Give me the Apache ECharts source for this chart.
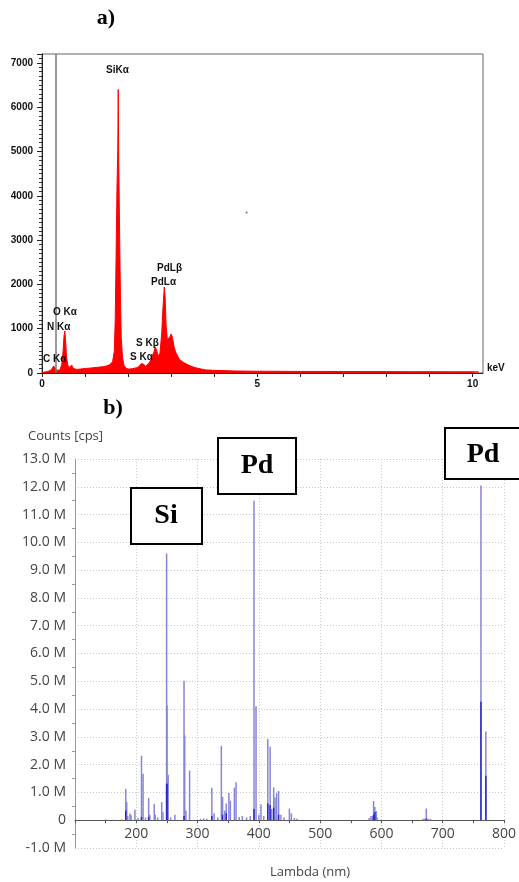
<!DOCTYPE html>
<html>
<head>
<meta charset="utf-8">
<title>EDS and emission spectra</title>
<script src="https://cdn.jsdelivr.net/npm/echarts@6/dist/echarts.min.js"></script>
<style>
    html, body { margin: 0; padding: 0; background: #fff; }
    #main { width: 519px; height: 882px; }
</style>
</head>
<body>
<div id="main"></div>
<script type="text/javascript">
    // a) EDS spectrum: energy (keV) and counts
    var edsKeV = [0.00, 0.05, 0.10, 0.15, 0.20, 0.24, 0.27, 0.30, 0.34, 0.38, 0.42, 0.46, 0.49, 0.51, 0.53,
        0.55, 0.57, 0.60, 0.63, 0.66, 0.69, 0.72, 0.76, 0.80, 0.90, 1.00, 1.10, 1.20, 1.30, 1.40,
        1.50, 1.58, 1.64, 1.68, 1.70, 1.72, 1.74, 1.76, 1.77, 1.78, 1.80, 1.82, 1.84, 1.87, 1.90,
        1.95, 2.00, 2.05, 2.10, 2.15, 2.20, 2.26, 2.30, 2.33, 2.36, 2.40, 2.45, 2.50, 2.55, 2.60,
        2.63, 2.66, 2.70, 2.74, 2.78, 2.81, 2.84, 2.86, 2.88, 2.91, 2.94, 2.97, 3.00, 3.03, 3.06,
        3.10, 3.15, 3.20, 3.30, 3.40, 3.50, 3.60, 3.70, 3.80, 4.00, 4.50, 5.00, 5.50, 6.00, 6.50,
        7.00, 7.50, 8.00, 8.50, 9.00, 9.50, 10.00, 10.15];
    var edsCounts = [0, 20, 30, 40, 60, 110, 160, 120, 60, 50, 70, 200, 500, 820, 950,
        700, 350, 180, 120, 140, 180, 110, 90, 80, 90, 100, 110, 120, 130, 140,
        160, 190, 260, 500, 1200, 2600, 4100, 5100, 6400, 5000, 3300, 1800, 800, 350, 180,
        110, 90, 90, 100, 110, 120, 150, 210, 240, 200, 150, 190, 250, 330, 480,
        590, 520, 380, 450, 900, 1500, 1940, 1700, 1100, 750, 720, 820, 880, 800, 620,
        480, 380, 300, 230, 180, 140, 110, 90, 70, 60, 45, 40, 38, 35, 35,
        33, 32, 32, 30, 30, 28, 28, 25];
    var keVLabels = [0, 5, 10];
    var markerKeV = 0.32;
    var strayDot = [4.75, 3620];

    // b) emission lines: wavelength (nm) and intensity (M cps)
    var lineNm = [150, 163, 176, 182.8, 184.4, 186, 189.7, 191.5, 197.8, 203, 208.5, 211.1, 215, 220.2, 222,
        229.3, 231, 235, 241.5, 243.5, 249.5, 250.2, 252.0, 256, 263, 277.9, 279.0, 281, 287,
        305, 310, 315, 323.3, 327, 333, 338.8, 340.8, 344.5, 346.8, 351.1, 353.5, 360.1, 362.8,
        368, 373, 380, 386, 392.1, 395.4, 400, 403.4, 408, 414.6, 418.4, 421, 424.2, 426.4, 429.0,
        432.2, 436, 441, 449.8, 453, 458, 462, 580, 583, 585.5, 587.2, 589.3, 591.5, 593,
        668, 671, 673.2, 676, 680, 762.4, 770.4];
    var lineCps = [0.03, 0.02, 0.03, 1.13, 0.65, 0.15, 0.24, 0.18, 0.38, 0.08, 2.32, 1.67, 0.10, 0.80, 0.20,
        0.58, 0.20, 0.10, 0.65, 0.30, 9.60, 4.13, 1.64, 0.10, 0.20, 5.02, 3.05, 0.35, 1.79,
        0.05, 0.06, 0.05, 1.17, 0.25, 0.10, 2.68, 0.84, 0.35, 0.60, 0.98, 0.70, 1.17, 1.37,
        0.12, 0.15, 0.10, 0.15, 11.5, 4.10, 0.20, 0.57, 0.15, 2.92, 2.64, 0.40, 1.18, 0.82, 0.97,
        1.05, 0.20, 0.10, 0.42, 0.25, 0.08, 0.05, 0.08, 0.15, 0.15, 0.69, 0.48, 0.33, 0.10,
        0.05, 0.06, 0.42, 0.06, 0.05, 12.05, 3.19];
    // darker, overlapping parts of the strongest lines
    var coreNm = [182.8, 208.5, 220.2, 249.5, 250.2, 277.9, 323.3, 340.8, 346.8, 392.1, 414.6, 418.4, 424.2,
        432.2, 587.2, 589.3, 673.2, 762.4, 770.4];
    var coreCps = [0.35, 0.12, 0.12, 1.31, 1.31, 0.15, 0.15, 0.20, 0.25, 0.40, 0.60, 0.55, 0.45,
        0.20, 0.20, 0.30, 0.05, 4.26, 1.60];

    var edsData = edsKeV.map(function (k, i) { return [k, edsCounts[i]]; });
    var lineData = lineNm.map(function (n, i) { return [n, lineCps[i]]; });
    var coreData = coreNm.map(function (n, i) { return [n, coreCps[i]]; });

    var boldSans = 'bold 10px "Liberation Sans", Arial, sans-serif';
    var serifBold = 'bold 28px "Liberation Serif", "Times New Roman", serif';
    var uiFont = '"Open Sans", "Noto Sans", sans-serif';

    function txt(text, x, y, font, align, color) {
        return {
            type: 'text', x: x, y: y, z: 100,
            style: { text: text, font: font, fill: color || '#111', textAlign: align || 'left', textVerticalAlign: 'middle' }
        };
    }
    function box(x, y, w, h, label, cx, cy) {
        return [
            { type: 'rect', z: 100, shape: { x: x, y: y, width: w, height: h },
              style: { fill: '#fff', stroke: '#000', lineWidth: 2 } },
            txt(label, cx, cy, serifBold, 'center', '#000')
        ];
    }

    var myChart = echarts.init(document.getElementById('main'));

    var option = {
        animation: false,
        backgroundColor: '#fff',
        grid: [
            { left: 42, right: 36, top: 54, bottom: 509, show: true, borderColor: '#666', borderWidth: 1, backgroundColor: 'transparent' },
            { left: 75, right: 7, top: 459, bottom: 34 }
        ],
        xAxis: [
            {
                gridIndex: 0, type: 'value', min: 0, max: 10.24, interval: 1,
                axisLine: { lineStyle: { color: '#222', width: 1 } },
                axisTick: { show: true, length: 4, lineStyle: { color: '#222' } },
                splitLine: { show: false },
                axisLabel: {
                    showMaxLabel: false, margin: 6, color: '#111',
                    fontFamily: '"Liberation Sans", Arial', fontWeight: 'bold', fontSize: 10,
                    formatter: function (v) { return keVLabels.indexOf(v) >= 0 ? String(v) : ''; }
                }
            },
            {
                // the wavelength axis sits on the zero line, one unit above the bottom
                gridIndex: 1, type: 'value', min: 100, max: 800, interval: 100,
                position: 'bottom', offset: -27.8,
                axisLine: { onZero: false, lineStyle: { color: '#555', width: 1 } },
                axisTick: { show: true, length: 3, lineStyle: { color: '#555' } },
                minorTick: { show: true, splitNumber: 2, length: 3, lineStyle: { color: '#555' } },
                splitLine: { show: true, lineStyle: { color: '#c8c8c8', type: [1, 2], width: 1 } },
                axisLabel: {
                    showMinLabel: false, margin: 7, color: '#444',
                    fontFamily: uiFont, fontSize: 14
                }
            }
        ],
        yAxis: [
            {
                gridIndex: 0, type: 'value', min: 0, max: 7200, interval: 1000,
                axisLine: { show: true, lineStyle: { color: '#222', width: 1 } },
                axisTick: { show: true, length: 5, lineStyle: { color: '#222' } },
                minorTick: { show: true, splitNumber: 10, length: 3, lineStyle: { color: '#333' } },
                splitLine: { show: false },
                axisLabel: {
                    showMaxLabel: false, margin: 9, color: '#111',
                    fontFamily: '"Liberation Sans", Arial', fontWeight: 'bold', fontSize: 10,
                    formatter: function (v) { return String(v); }
                }
            },
            {
                gridIndex: 1, type: 'value', min: -1, max: 13, interval: 1,
                axisLine: { show: true, onZero: false, lineStyle: { color: '#999', width: 1 } },
                axisTick: { show: false },
                minorTick: { show: true, splitNumber: 2, length: 3, lineStyle: { color: '#999' } },
                splitLine: { show: true, lineStyle: { color: '#c8c8c8', type: [1, 2], width: 1 } },
                axisLabel: {
                    margin: 9, color: '#444', fontFamily: uiFont, fontSize: 14,
                    formatter: function (v) { return v === 0 ? '0' : v.toFixed(1) + ' M'; }
                }
            }
        ],
        series: [
            {
                type: 'line', xAxisIndex: 0, yAxisIndex: 0, data: edsData,
                showSymbol: false, symbol: 'none', smooth: false,
                lineStyle: { color: '#ff0000', width: 1 },
                areaStyle: { color: '#ff0000', opacity: 1 },
                markLine: {
                    silent: true, symbol: 'none', label: { show: false },
                    lineStyle: { color: '#7a7a7a', width: 1.5, type: 'solid' },
                    data: [{ xAxis: markerKeV }]
                }
            },
            {
                type: 'scatter', xAxisIndex: 0, yAxisIndex: 0, data: [strayDot],
                symbolSize: 2, itemStyle: { color: '#444' }
            },
            {
                type: 'bar', xAxisIndex: 1, yAxisIndex: 1, data: lineData,
                barWidth: 1.5, barGap: '-100%', itemStyle: { color: '#8686d8' }
            },
            {
                type: 'bar', xAxisIndex: 1, yAxisIndex: 1, data: coreData,
                barWidth: 1.5, barGap: '-100%', itemStyle: { color: '#2a2ac8' }
            }
        ],
        graphic: [
            txt('a)', 106, 18, 'bold 22px "Liberation Serif", serif', 'center', '#000'),
            txt('b)', 113, 408, 'bold 22px "Liberation Serif", serif', 'center', '#000'),
            txt('SiKα', 106, 70, boldSans),
            txt('PdLβ', 157, 268, boldSans),
            txt('PdLα', 151, 282, boldSans),
            txt('O Kα', 53, 312, boldSans),
            txt('N Kα', 47, 327, boldSans),
            txt('S Kβ', 136, 343, boldSans),
            txt('S Kα', 130, 357, boldSans),
            txt('C Kα', 43, 359, boldSans),
            txt('keV', 487, 368, boldSans),
            txt('Counts [cps]', 28, 436, '13px ' + uiFont, 'left', '#444'),
            txt('Lambda (nm)', 310, 872, '13px ' + uiFont, 'center', '#444')
        ].concat(
            box(131, 488, 71, 56, 'Si', 166, 516),
            box(218, 438, 78, 56, 'Pd', 257, 466),
            box(445, 428, 80, 51, 'Pd', 483, 455)
        )
    };

    myChart.setOption(option);
</script>
</body>
</html>
